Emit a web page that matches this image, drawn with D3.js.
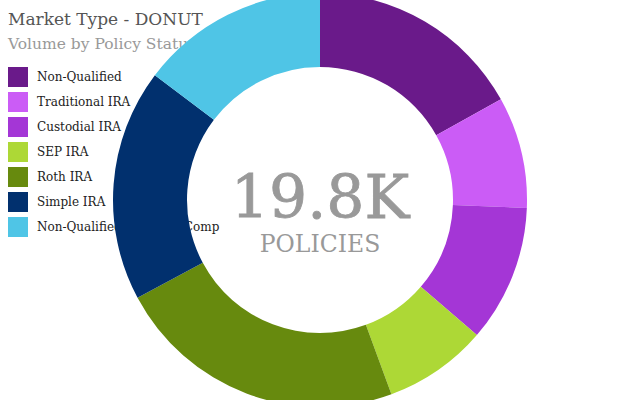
<!DOCTYPE html>
<html>
<head>
<meta charset="utf-8">
<script src="https://cdn.jsdelivr.net/npm/d3@7"></script>
<style>
  body { margin: 0; background: #fff; }
  svg { display: block; font-family: "DejaVu Serif", serif; }
</style>
</head>
<body>
<div id="chart"></div>
<script>
//! CONSTS
const WIDTH = 640;
const HEIGHT = 400;

//! DATA
const categories = ['Non-Qualified', 'Traditional IRA', 'Custodial IRA', 'SEP IRA', 'Roth IRA', 'Simple IRA', 'Non-Qualified Deferred Comp'];
const policies = [3350, 1720, 2120, 1600, 4510, 3590, 2910];
const colorList = ['#6a1a8a', '#cb5cf6', '#a436d6', '#add836', '#678a0e', '#01306e', '#4fc5e6'];
const centerLabel = '19.8K';
const centerSub = 'POLICIES';

const svg = d3.select('#chart')
  .append('svg')
  .attr('width', WIDTH)
  .attr('height', HEIGHT);

// title
svg.append('text')
  .attr('x', 8).attr('y', 25)
  .attr('font-size', 17)
  .attr('fill', '#555')
  .text('Market Type - DONUT');

svg.append('text')
  .attr('x', 8).attr('y', 49)
  .attr('font-size', 15.5)
  .attr('fill', '#999')
  .text('Volume by Policy Status');

// legend (sits under the donut)
const color = d3.scaleOrdinal().domain(categories).range(colorList);
const legendY = d3.scaleBand().domain(categories).range([67, 67 + 25 * categories.length]);

const legend = svg.append('g').attr('class', 'legend');
legend.selectAll('rect')
  .data(categories)
  .enter()
  .append('rect')
  .attr('x', 8)
  .attr('y', d => legendY(d))
  .attr('width', 20)
  .attr('height', 20)
  .attr('fill', d => color(d));

legend.selectAll('text')
  .data(categories)
  .enter()
  .append('text')
  .attr('x', 37)
  .attr('y', d => legendY(d) + 10)
  .attr('dy', '0.35em')
  .attr('font-size', 12)
  .attr('fill', '#222')
  .text(d => d);

// donut
const cx = 320, cy = 200;
const pie = d3.pie().sort(null).value(d => d.value);
const arc = d3.arc().innerRadius(133).outerRadius(207);

const donut = svg.append('g').attr('transform', `translate(${cx},${cy})`);
donut.selectAll('path')
  .data(pie(categories.map((c, i) => ({ name: c, value: policies[i] }))))
  .enter()
  .append('path')
  .attr('d', arc)
  .attr('fill', d => color(d.data.name));

donut.append('text')
  .attr('text-anchor', 'middle')
  .attr('y', 18)
  .attr('font-size', 60)
  .attr('stroke', '#999')
  .attr('stroke-width', 0.8)
  .attr('fill', '#999')
  .text(centerLabel);

donut.append('text')
  .attr('text-anchor', 'middle')
  .attr('y', 52)
  .attr('font-size', 23.5)
  .attr('fill', '#999')
  .text(centerSub);
</script>
</body>
</html>
